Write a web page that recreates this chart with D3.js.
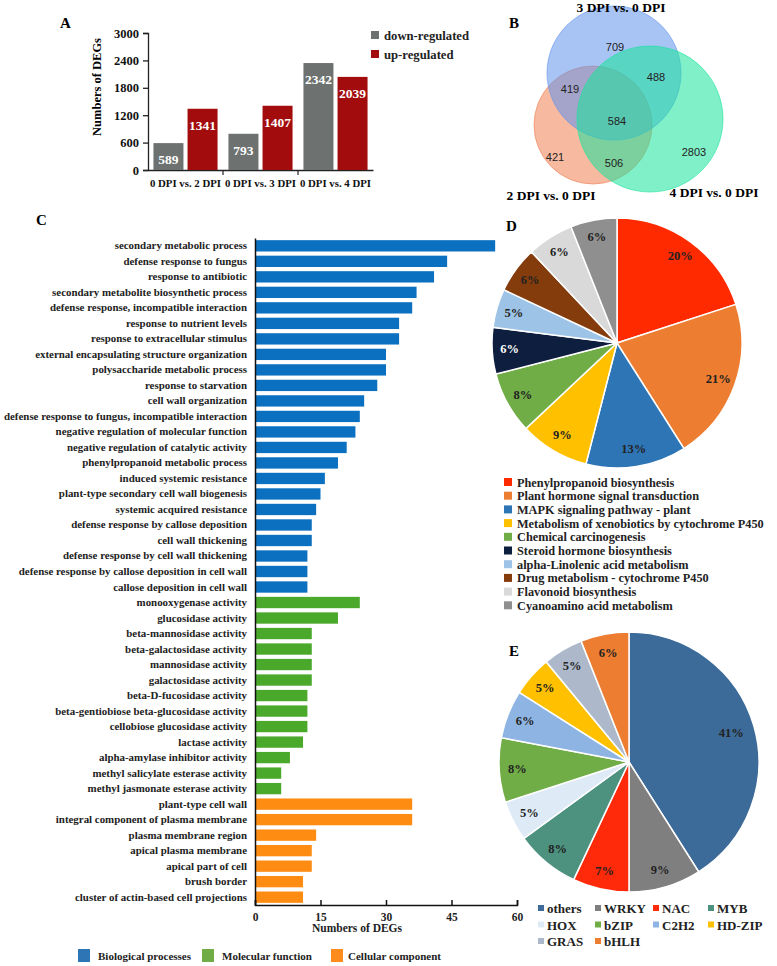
<!DOCTYPE html>
<html>
<head>
<meta charset="utf-8">
<script src="https://cdn.jsdelivr.net/npm/d3@7"></script>
<style>
  body { margin: 0; background: #fff; }
  svg text { font-family: "Liberation Serif", "Times New Roman", serif; font-weight: bold; }
  .sans { font-family: "Liberation Sans", Arial, sans-serif !important; font-weight: normal !important; }
</style>
</head>
<body>
<div id="chart"></div>
<script>
// ---- panel A data
const degGroups = ['0 DPI vs. 2 DPI', '0 DPI vs. 3 DPI', '0 DPI vs. 4 DPI'];
const degSeries = ['down-regulated', 'up-regulated'];
const downValues = [589, 793, 2342];
const upValues = [1341, 1407, 2039];
const degTicks = [0, 600, 1200, 1800, 2400, 3000];

// ---- panel B data (venn)
const vennSets = ['3 DPI vs. 0 DPI', '4 DPI vs. 0 DPI', '2 DPI vs.  0 DPI'];
const vennCounts = [709, 488, 419, 584, 421, 506, 2803];

// ---- panel C data
const goTerms = [
  'secondary metabolic process', 'defense response to fungus', 'response to antibiotic',
  'secondary metabolite biosynthetic process', 'defense response, incompatible interaction',
  'response to nutrient levels', 'response to extracellular stimulus',
  'external encapsulating structure organization', 'polysaccharide metabolic process',
  'response to starvation', 'cell wall organization',
  'defense response to fungus, incompatible interaction', 'negative regulation of molecular function',
  'negative regulation of catalytic activity', 'phenylpropanoid metabolic process',
  'induced systemic resistance', 'plant-type secondary cell wall biogenesis',
  'systemic acquired resistance', 'defense response by callose deposition', 'cell wall thickening',
  'defense response by cell wall thickening', 'defense response by callose deposition in cell wall',
  'callose deposition in cell wall',
  'monooxygenase activity', 'glucosidase activity', 'beta-mannosidase activity',
  'beta-galactosidase activity', 'mannosidase activity', 'galactosidase activity',
  'beta-D-fucosidase activity', 'beta-gentiobiose beta-glucosidase activity',
  'cellobiose glucosidase activity', 'lactase activity', 'alpha-amylase inhibitor activity',
  'methyl salicylate esterase activity', 'methyl jasmonate esterase activity',
  'plant-type cell wall', 'integral component of plasma membrane', 'plasma membrane region',
  'apical plasma membrane', 'apical part of cell', 'brush border',
  'cluster of actin-based cell projections'
];
const goCounts = [55, 44, 41, 37, 36, 33, 33, 30, 30, 28, 25, 24, 23, 21, 19, 16, 15, 14, 13, 13, 12, 12, 12,
  24, 19, 13, 13, 13, 13, 12, 12, 12, 11, 8, 6, 6,
  36, 36, 14, 13, 13, 11, 11];
const goClass = [].concat(d3.range(23).map(() => 'BP'), d3.range(13).map(() => 'MF'), d3.range(7).map(() => 'CC'));
const goClassNames = ['Biological processes', 'Molecular function', 'Cellular component'];
const goTicks = [0, 15, 30, 45, 60];

// ---- panel D data
const keggNames = ['Phenylpropanoid biosynthesis', 'Plant hormone signal transduction',
  'MAPK signaling pathway - plant', 'Metabolism of xenobiotics by cytochrome P450',
  'Chemical carcinogenesis', 'Steroid hormone biosynthesis', 'alpha-Linolenic acid metabolism',
  'Drug metabolism - cytochrome P450', 'Flavonoid biosynthesis', 'Cyanoamino acid metabolism'];
const keggPct = [20, 21, 13, 9, 8, 6, 5, 6, 6, 6];

// ---- panel E data
const tfNames = ['others', 'WRKY', 'NAC', 'MYB', 'HOX', 'bZIP', 'C2H2', 'HD-ZIP', 'GRAS', 'bHLH'];
const tfPct = [41, 9, 7, 8, 5, 8, 6, 5, 5, 6];

const svg = d3.select('#chart').append('svg').attr('width', 777).attr('height', 966);

function panelLabel(t, x, y) {
  svg.append('text').attr('x', x).attr('y', y).attr('font-size', 15).text(t);
}

// ================= A
(function () {
  const g = svg.append('g');
  const x0 = d3.scaleBand().domain(degGroups).range([148, 373]);
  const x1 = d3.scaleBand().domain(degSeries).range([0, x0.bandwidth()]).paddingInner(0.12).paddingOuter(0.16);
  const y = d3.scaleLinear().domain([0, 3000]).range([170, 33]);
  const color = d3.scaleOrdinal().domain(degSeries).range(['#6d7270', '#a30c0d']);

  g.append('g').attr('transform', 'translate(148,0)')
    .call(d3.axisLeft(y).tickValues(degTicks).tickFormat(d3.format('d')).tickSize(5).tickPadding(4))
    .call(s => s.selectAll('text').attr('font-size', 12.5).attr('fill', '#111'))
    .call(s => s.selectAll('line,path').attr('stroke', '#222').attr('stroke-width', 1.3));
  g.append('g').attr('transform', 'translate(0,170)')
    .call(d3.axisBottom(x0).tickSize(0).tickPadding(9))
    .call(s => s.selectAll('text').attr('font-size', 10.8).attr('fill', '#111'))
    .call(s => s.select('.domain').attr('stroke', '#222').attr('stroke-width', 1.3));
  g.selectAll('.sep').data(degGroups.slice(1)).join('line')
    .attr('x1', d => x0(d)).attr('x2', d => x0(d)).attr('y1', 170).attr('y2', 175)
    .attr('stroke', '#222').attr('stroke-width', 1.2);

  const rows = degGroups.map((grp, i) => [
    { grp, s: degSeries[0], v: downValues[i] },
    { grp, s: degSeries[1], v: upValues[i] }]).flat();
  g.selectAll('.bar').data(rows).join('rect')
    .attr('x', d => x0(d.grp) + x1(d.s)).attr('width', x1.bandwidth())
    .attr('y', d => y(d.v)).attr('height', d => 170 - y(d.v))
    .attr('fill', d => color(d.s));
  g.selectAll('.val').data(rows).join('text')
    .attr('x', d => x0(d.grp) + x1(d.s) + x1.bandwidth() / 2)
    .attr('y', d => y(d.v) + 21)
    .attr('text-anchor', 'middle').attr('font-size', 13.5).attr('fill', '#fff')
    .text(d => d.v);

  const leg = g.selectAll('.leg').data(degSeries).join('g')
    .attr('transform', (d, i) => `translate(371,${31 + i * 19})`);
  leg.append('rect').attr('width', 8).attr('height', 8).attr('fill', d => color(d));
  leg.append('text').attr('x', 13).attr('y', 8.5).attr('font-size', 12.7).attr('fill', '#222').text(d => d);

  g.append('text').attr('transform', 'translate(101,87) rotate(-90)').attr('text-anchor', 'middle')
    .attr('font-size', 12.5).text('Numbers of DEGs');
  panelLabel('A', 60, 28);
})();

// ================= B
(function () {
  const g = svg.append('g');
  const circles = [
    { name: vennSets[2], cx: 593, cy: 125, r: 59, fill: '#f07f52' },
    { name: vennSets[0], cx: 614, cy: 73, r: 67, fill: '#6093ec' },
    { name: vennSets[1], cx: 650, cy: 119, r: 73, fill: '#18e39b' }
  ];
  g.selectAll('circle').data(circles).join('circle')
    .attr('cx', d => d.cx).attr('cy', d => d.cy).attr('r', d => d.r)
    .attr('fill', d => d.fill).attr('fill-opacity', 0.55)
    .attr('stroke', d => d.fill).attr('stroke-opacity', 0.6);
  const pos = [[615, 51], [656, 81], [570, 93], [617, 125], [555, 161], [614, 167], [694, 156]];
  g.selectAll('.cnt').data(vennCounts).join('text').attr('class', 'sans')
    .attr('x', (d, i) => pos[i][0]).attr('y', (d, i) => pos[i][1])
    .attr('text-anchor', 'middle').attr('font-size', 11).attr('fill', '#222').text(d => d);
  g.append('text').attr('x', 621).attr('y', 12).attr('text-anchor', 'middle').attr('font-size', 13.5).text(vennSets[0]);
  g.append('text').attr('x', 551).attr('y', 200).attr('text-anchor', 'middle').attr('font-size', 13.5).text(vennSets[2]);
  g.append('text').attr('x', 714).attr('y', 197).attr('text-anchor', 'middle').attr('font-size', 13.5).text(vennSets[1]);
  panelLabel('B', 509, 28);
})();

// ================= C
(function () {
  const g = svg.append('g');
  const x = d3.scaleLinear().domain([0, 60]).range([255, 517]);
  const y = d3.scaleBand().domain(goTerms).range([238, 905]).paddingInner(0.27).paddingOuter(0.14);
  const color = d3.scaleOrdinal().domain(['BP', 'MF', 'CC']).range(['#0b70c0', '#4aa82a', '#ff8c12']);
  const legColor = ['#2e75b6', '#70ad47', '#fd8c1c'];

  g.selectAll('.bar').data(goTerms).join('rect')
    .attr('x', x(0)).attr('y', d => y(d)).attr('height', y.bandwidth())
    .attr('width', (d, i) => x(goCounts[i]) - x(0))
    .attr('fill', (d, i) => color(goClass[i]));

  g.append('g').attr('transform', `translate(${x(0)},0)`)
    .call(d3.axisLeft(y).tickSize(0).tickPadding(8))
    .call(s => s.selectAll('text').attr('font-size', 10.9).attr('fill', '#222'))
    .call(s => s.select('.domain').attr('stroke', '#111').attr('stroke-width', 1.5));
  g.append('g').attr('transform', 'translate(0,905)')
    .call(d3.axisBottom(x).tickValues(goTicks).tickSize(-5).tickPadding(8))
    .call(s => s.selectAll('text').attr('font-size', 11.5).attr('fill', '#222'))
    .call(s => s.selectAll('line,path').attr('stroke', '#111').attr('stroke-width', 1.5));
  g.append('text').attr('x', 357).attr('y', 932).attr('text-anchor', 'middle').attr('font-size', 11.5)
    .attr('fill', '#222').text('Numbers of  DEGs');

  const lx = [78, 202, 331];
  const leg = g.selectAll('.leg').data(goClassNames).join('g')
    .attr('transform', (d, i) => `translate(${lx[i]},949)`);
  leg.append('rect').attr('width', 12).attr('height', 13).attr('fill', (d, i) => legColor[i]);
  leg.append('text').attr('x', (d, i) => i === 2 ? 17 : 20).attr('y', 11).attr('font-size', 11)
    .attr('fill', '#222').text(d => d);
  panelLabel('C', 36, 225);
})();

// ================= D
(function () {
  const cx = 617, cy = 343, R = 125;
  const g = svg.append('g').attr('transform', `translate(${cx},${cy})`);
  const colors = ['#ff2a00', '#ed7d31', '#2e75b6', '#ffc000', '#70ad47', '#0d1e3e', '#9dc3e6', '#843c0c', '#d9d9d9', '#8f8f8f'];
  const pie = d3.pie().sort(null).value(d => d);
  const arc = d3.arc().innerRadius(0).outerRadius(R);
  const lab = d3.arc().innerRadius(R * 0.86).outerRadius(R * 0.86);
  const arcs = pie(keggPct);
  g.selectAll('path').data(arcs).join('path').attr('d', arc)
    .attr('fill', (d, i) => colors[i]).attr('stroke', '#fff').attr('stroke-width', 1.5);
  g.selectAll('.pl').data(arcs).join('text')
    .attr('transform', d => `translate(${lab.centroid(d)})`).attr('dy', '0.3em')
    .attr('text-anchor', 'middle').attr('font-size', 12.5)
    .attr('fill', (d, i) => i === 5 ? '#fff' : '#222').text(d => d.data + '%');

  const leg = svg.append('g').selectAll('g').data(keggNames).join('g')
    .attr('transform', (d, i) => `translate(504,${478 + i * 13.7})`);
  leg.append('rect').attr('width', 8).attr('height', 8).attr('fill', (d, i) => colors[i]);
  leg.append('text').attr('x', 13).attr('y', 8.5).attr('font-size', 12.3).attr('fill', '#222').text(d => d);
  panelLabel('D', 506, 231);
})();

// ================= E
(function () {
  const cx = 629, cy = 762, R = 130;
  const g = svg.append('g').attr('transform', `translate(${cx},${cy})`);
  const colors = ['#3d6b99', '#7f7f7f', '#ff2a0a', '#4d917f', '#deebf7', '#70ad47', '#8eb4e3', '#ffc000', '#adb9ca', '#ed7d31'];
  const pie = d3.pie().sort(null).value(d => d);
  const arc = d3.arc().innerRadius(0).outerRadius(R);
  const lab = d3.arc().innerRadius(R * 0.86).outerRadius(R * 0.86);
  const arcs = pie(tfPct);
  g.selectAll('path').data(arcs).join('path').attr('d', arc)
    .attr('fill', (d, i) => colors[i]).attr('stroke', '#fff').attr('stroke-width', 1.5);
  g.selectAll('.pl').data(arcs).join('text')
    .attr('transform', (d, i) => `translate(${(i === 0 ? d3.arc().innerRadius(R * 0.82).outerRadius(R * 0.82) : lab).centroid(d)})`)
    .attr('dy', '0.35em').attr('text-anchor', 'middle').attr('font-size', 12.5)
    .attr('fill', '#222').text(d => d.data + '%');

  const colX = [538, 595, 653, 708];
  const leg = svg.append('g').selectAll('g').data(tfNames).join('g')
    .attr('transform', (d, i) => `translate(${colX[i % 4]},${905 + Math.floor(i / 4) * 16.5})`);
  leg.append('rect').attr('width', 6).attr('height', 6).attr('fill', (d, i) => colors[i]);
  leg.append('text').attr('x', 9).attr('y', 8).attr('font-size', 13).attr('fill', '#222').text(d => d);
  panelLabel('E', 509, 656);
})();
</script>
</body>
</html>
